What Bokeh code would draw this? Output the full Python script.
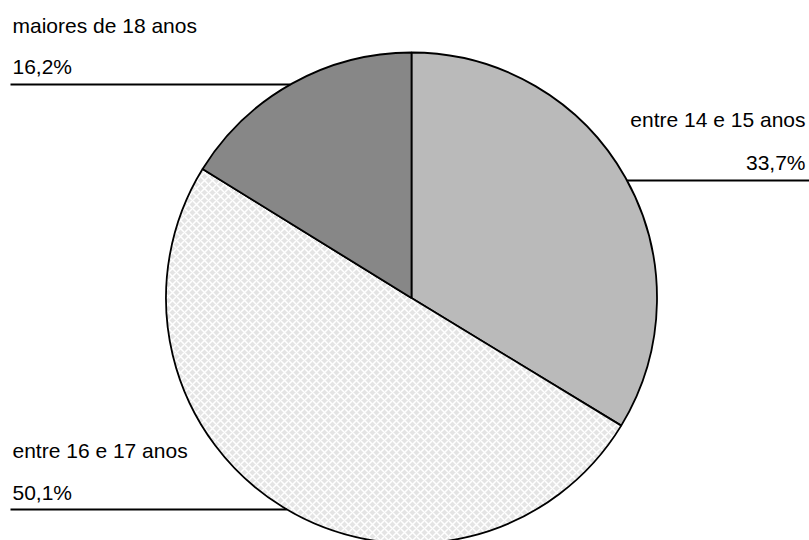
import math
from bokeh.plotting import figure
from bokeh.models import Range1d
from bokeh.core.properties import value
from bokeh.embed import file_html
from bokeh.resources import INLINE

# ---- data ----
categories = ["entre 14 e 15 anos", "entre 16 e 17 anos", "maiores de 18 anos"]
shares = [33.7, 50.1, 16.2]
fill_colors = ["#bababa", "#e4e4e4", "#878787"]
hatches = [" ", "diagonal_cross", " "]

W, H = 809, 540
# data coords: x = screen x, y = 540 - screen y
p = figure(width=W, height=H, output_backend="svg", toolbar_location=None,
           x_range=Range1d(0, W), y_range=Range1d(0, H),
           x_axis_location=None, y_axis_location=None, min_border=0,
           match_aspect=False)
p.grid.visible = False
p.outline_line_color = None
p.background_fill_color = "white"
p.border_fill_color = "white"

cx, cy, r = 411, 540 - 297.5, 245.5

total = sum(shares)
start = math.pi / 2
for cat, v, col, h in zip(categories, shares, fill_colors, hatches):
    end = start - v / total * 2 * math.pi
    kw = {}
    if h.strip():
        kw = dict(hatch_pattern=h, hatch_color="white", hatch_scale=8,
                  hatch_weight=1.5, hatch_alpha=1.0)
    p.wedge(x=cx, y=cy, radius=r, start_angle=end, end_angle=start,
            fill_color=col, line_color="black", line_width=1.8, **kw)
    start = end

# ---- labels with leader lines ----
font = value("Liberation Sans")
fs = "21px"

def edge_x(y_screen, side):
    dy = (540 - y_screen) - cy
    dx = math.sqrt(max(r * r - dy * dy, 0))
    return cx + side * dx

def pct(v):
    return f"{v:.1f}".replace(".", ",") + "%"

# (name_middle, pct_middle, line_y, side)
layout = {
    "entre 14 e 15 anos": (119, 162, 180, 1),
    "entre 16 e 17 anos": (450, 492, 509, -1),
    "maiores de 18 anos": (25, 66, 84, -1),
}

for cat, v in zip(categories, shares):
    nb, pb, ly, side = layout[cat]
    if side > 0:
        tx, align = 805, "right"
        x0, x1 = edge_x(ly, 1), 809
    else:
        tx, align = 12, "left"
        x0, x1 = 10, edge_x(ly, -1)
    p.text(x=[tx], y=[540 - nb], text=[cat], text_font=font, text_font_size=fs,
           text_align=align, text_baseline="middle", text_color="black")
    p.text(x=[tx], y=[540 - pb], text=[pct(v)], text_font=font, text_font_size=fs,
           text_align=align, text_baseline="middle", text_color="black")
    p.segment(x0=[x0], y0=[540 - ly], x1=[x1], y1=[540 - ly],
              line_color="black", line_width=2)

open("out.html", "w").write(file_html(p, INLINE))
